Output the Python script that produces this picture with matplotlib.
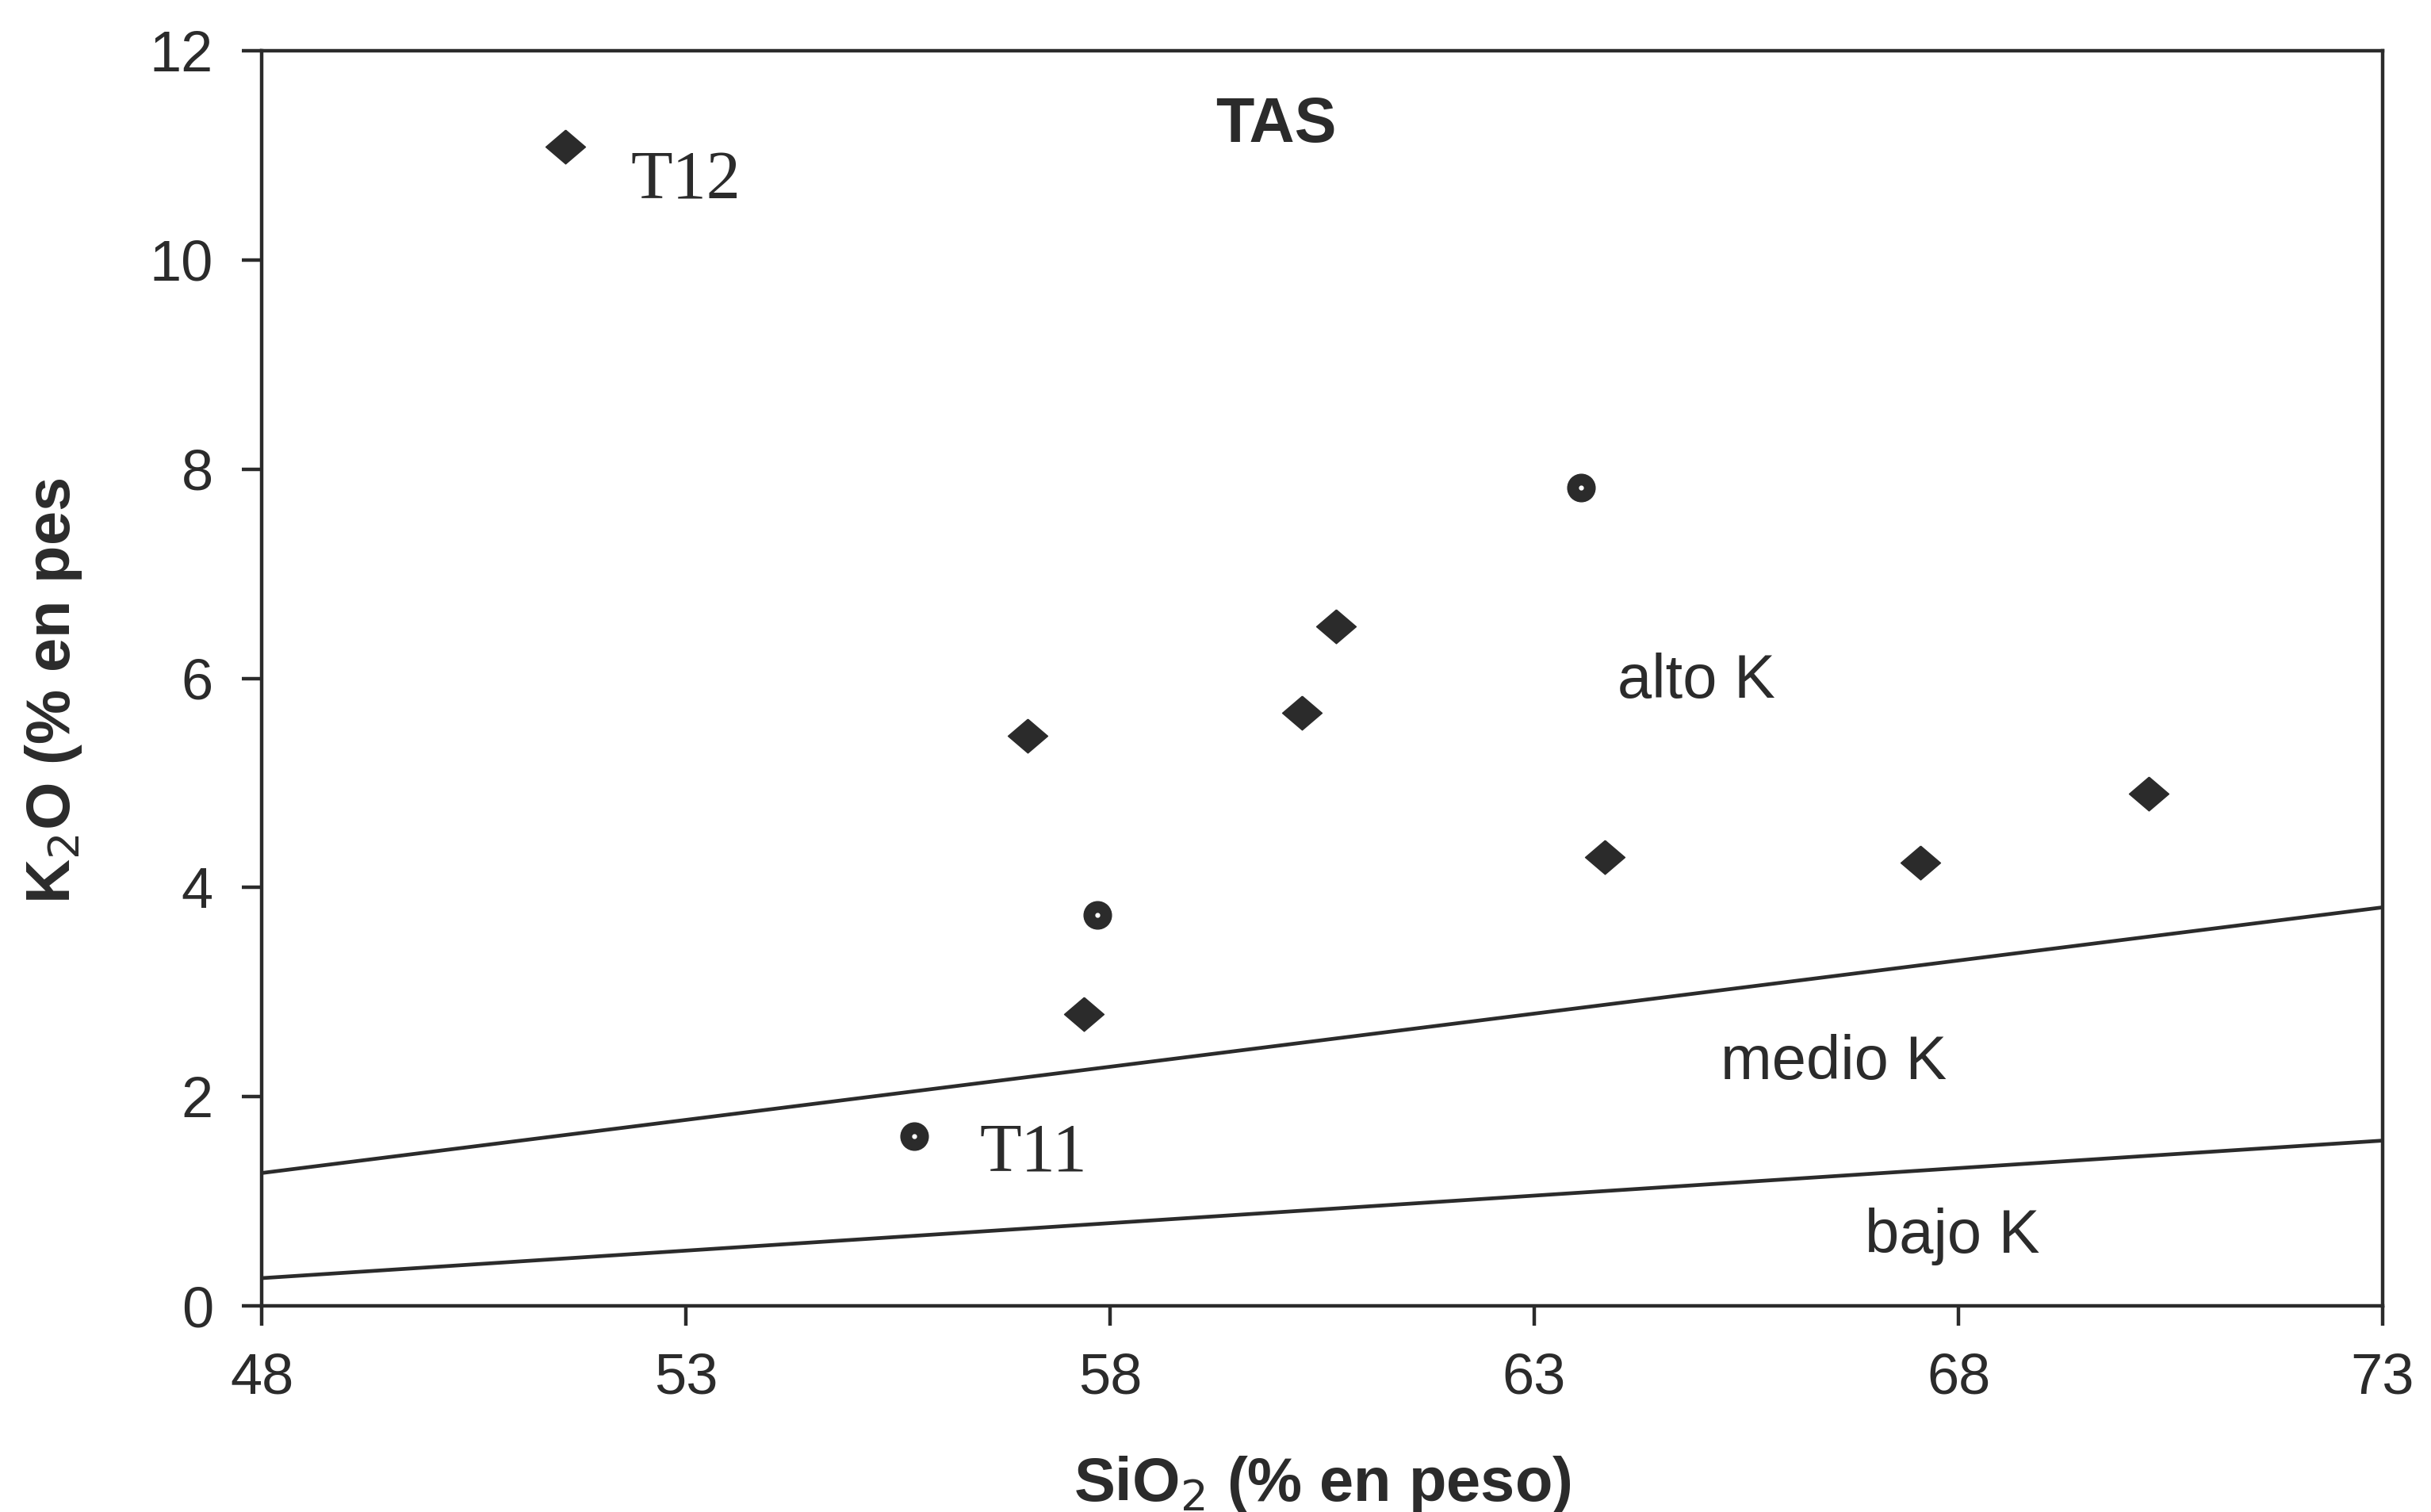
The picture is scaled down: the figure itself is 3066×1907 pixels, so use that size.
import matplotlib
matplotlib.use("Agg")
import matplotlib.pyplot as plt

# datos
dia_x = [51.58, 57.03, 60.66, 60.26, 63.83, 67.55, 70.24, 57.69]
dia_y = [11.08, 5.45, 6.50, 5.67, 4.29, 4.24, 4.90, 2.79]
cir_x = [63.55, 57.85, 55.69]
cir_y = [7.82, 3.74, 1.62]

# lineas limite alto/medio/bajo K
lim_x = [48, 73]
lim_alto = [1.27, 3.81]
lim_bajo = [0.265, 1.58]

xticks = [48, 53, 58, 63, 68, 73]
yticks = [0, 2, 4, 6, 8, 10, 12]

col = '#2b2b2b'
plt.rcParams['font.family'] = ['Liberation Sans', 'DejaVu Sans']

fig = plt.figure(figsize=(30.66, 19.07), dpi=100)
ax = fig.add_axes([330/3066, 1-1647/1907, (3005-330)/3066, (1647-64)/1907])

ax.plot(lim_x, lim_alto, color=col, lw=3.4)
ax.plot(lim_x, lim_bajo, color=col, lw=3.4)

rombo = [(0, 1), (1.17, 0), (0, -1), (-1.17, 0), (0, 1)]
ax.plot(dia_x, dia_y, ls='none', marker=rombo, ms=36, color=col, mec=col)
ax.plot(cir_x, cir_y, ls='none', marker='o', ms=25, color=col, mec=col)
ax.plot(cir_x, cir_y, ls='none', marker='o', ms=3.5, color='white', mec='white')

ax.text(59.96, 11.28, 'TAS', fontsize=57, fontweight='bold', ha='center', va='center', color=col)
ax.text(52.35, 10.74, 'T12', fontsize=62, family='Liberation Serif', ha='left', va='center', color=col)
ax.text(56.46, 1.45, 'T11', fontsize=62, family='Liberation Serif', ha='left', va='center', color=col)
ax.text(64.91, 5.97, 'alto K', fontsize=56, ha='center', va='center', color=col)
ax.text(66.53, 2.32, 'medio K', fontsize=56, ha='center', va='center', color=col)
ax.text(67.93, 0.66, 'bajo K', fontsize=56, ha='center', va='center', color=col)

ax.set_xlim(48, 73)
ax.set_ylim(0, 12)
ax.set_xticks(xticks)
ax.set_yticks(yticks)
ax.tick_params(axis='both', direction='out', length=18, width=3.2, color=col,
               labelsize=52, labelcolor=col)
ax.tick_params(axis='x', pad=24)
ax.tick_params(axis='y', pad=26)
for s in ax.spines.values():
    s.set_linewidth(3.2)
    s.set_color(col)

ax.set_xlabel('SiO$_2$ (% en peso)', fontsize=56, fontweight='bold', color=col)
ax.xaxis.set_label_coords(0.5, -0.118)
ax.set_ylabel('K$_2$O (% en pes', fontsize=56, fontweight='bold', color=col)
ax.yaxis.set_label_coords(-0.098, 0.49)
ax.yaxis.label.set_va('center')
ax.xaxis.label.set_va('top')

fig.savefig('out.png', dpi=100)
